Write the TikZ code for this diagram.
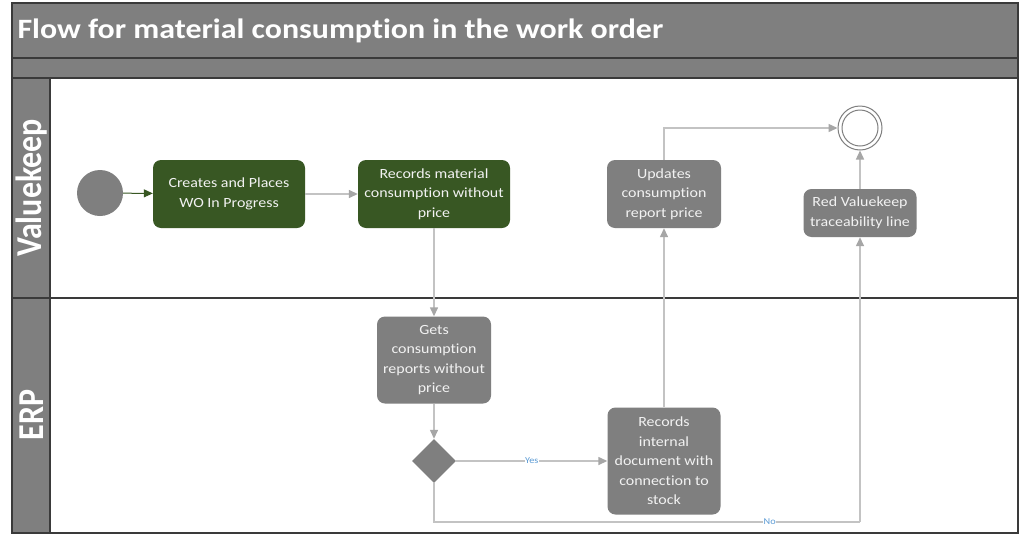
\documentclass[tikz,border=0pt]{standalone}
\usepackage{fontspec}
\setmainfont{Carlito}[FakeStretch=1.14, Ligatures=NoCommon]
\newfontfamily\lanefont{Carlito}[Ligatures=NoCommon]
\usetikzlibrary{arrows.meta,shapes.geometric}
\definecolor{hdrgray}{HTML}{7F7F7F}
\definecolor{edgecol}{HTML}{3A3A3A}
\definecolor{vkgreen}{HTML}{385723}
\definecolor{linegray}{HTML}{C3C3C3}
\definecolor{tipgray}{HTML}{A6A6A6}
\definecolor{lblblue}{HTML}{5B9BD5}
\definecolor{txtwhite}{HTML}{F2F2F2}
\tikzset{
  taskbox/.style={rounded corners=8pt, fill=hdrgray, text=txtwhite, align=center,
    font=\fontsize{14}{19.5}\selectfont, inner sep=2pt},
  greenbox/.style={taskbox, fill=vkgreen},
  conn/.style={draw=linegray, line width=1.4pt,
    -{Triangle[length=9pt,width=8pt,color=tipgray,fill=tipgray]}},
  plainline/.style={draw=linegray, line width=1.4pt},
  lbl/.style={font=\fontsize{9}{10}\selectfont, text=lblblue, fill=white, inner sep=0.5pt},
  lanelbl/.style={rotate=90, text=white, font=\lanefont\bfseries\fontsize{32}{33}\selectfont},
}
\begin{document}
\begin{tikzpicture}[x=1pt,y=-1pt]
\useasboundingbox (0,0) rectangle (1024,541);
% header
\draw[edgecol, fill=hdrgray, line width=1.2pt] (12,3) rectangle (1018,58);
\node[anchor=west, text=white, font=\bfseries\fontsize{28}{30}\selectfont] (title) at (14,31) {Flow for material consumption in the work order};
\draw[edgecol, fill=hdrgray, line width=1.2pt] (12,58) rectangle (1018,78);
% lanes
\draw[edgecol, fill=white, line width=1.2pt] (50,78) rectangle (1018,533);
\draw[edgecol, fill=hdrgray, line width=1.2pt] (12,78) rectangle (50,298);
\draw[edgecol, fill=hdrgray, line width=1.2pt] (12,298) rectangle (50,533);
\draw[edgecol, line width=1.2pt] (12,298) -- (1018,298);
\node[lanelbl] (lane1) at (32,188) {\scalebox{1}[1.14]{Valuekeep}};
\node[lanelbl] (lane2) at (32,415) {\scalebox{1}[1.14]{ERP}};

% events
\node[circle, fill=hdrgray, minimum size=46pt, inner sep=0pt] (start) at (100,193) {};
\node[circle, draw=hdrgray, fill=white, line width=1pt, minimum size=44pt, inner sep=0pt] (end) at (860,128) {};
\draw[hdrgray, line width=1pt] (end.center) circle (18);

% tasks
\node[greenbox, minimum width=152pt, minimum height=68pt] (create) at (229,194) {Creates and Places\\WO In Progress};
\node[greenbox, minimum width=152pt, minimum height=68pt] (record) at (434,194) {Records material\\consumption without\\price};
\node[taskbox, minimum width=114pt, minimum height=87pt] (gets) at (434,360) {Gets\\consumption\\reports without\\price};
\node[diamond, fill=hdrgray, minimum width=44pt, minimum height=44pt, inner sep=0pt] (dec) at (434,461) {};
\node[taskbox, minimum width=113pt, minimum height=107pt] (internal) at (664,461) {Records\\internal\\document with\\connection to\\stock};
\node[taskbox, minimum width=114pt, minimum height=68pt] (updates) at (664,194) {Updates\\consumption\\report price};
\node[taskbox, minimum width=113pt, minimum height=48pt] (red) at (860,213) {Red Valuekeep\\traceability line};
\coordinate (nob) at (860,522);

% connectors
\draw[draw=vkgreen, line width=1pt, -{Triangle[length=9pt,width=8pt,color=vkgreen,fill=vkgreen]}] (start) -- (create);
\draw[conn] (create) -- (record);
\draw[conn] (record) -- (gets);
\draw[conn] (gets) -- (dec);
\draw[conn] (dec) -- node[lbl] (yes) {Yes} (internal);
\draw[plainline] (dec.south) |- node[lbl, pos=0.894] (no) {No} (nob);
\draw[conn] (nob) -- (red.south);
\draw[conn] (red) -- (end);
\draw[conn] (internal) -- (updates);
\draw[conn] (updates.north) |- (end.west);
\end{tikzpicture}
\end{document}
